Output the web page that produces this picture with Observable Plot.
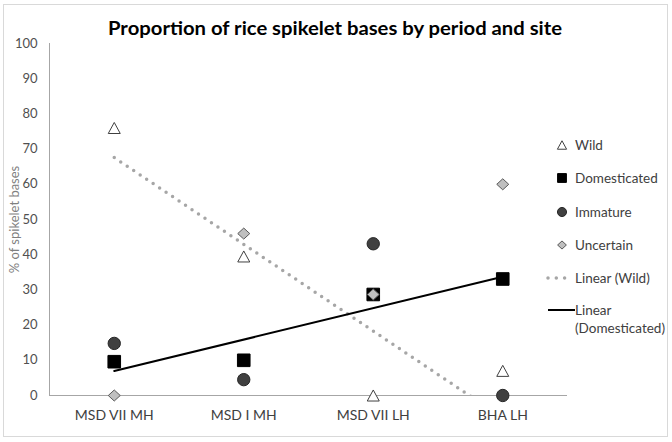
<!DOCTYPE html>
<html><head><meta charset="utf-8">
<script src="https://cdn.jsdelivr.net/npm/d3@7"></script>
<script src="https://cdn.jsdelivr.net/npm/@observablehq/plot@0.6"></script>
<style>
body{margin:0;background:#fff;}
#wrap{position:relative;width:672px;height:442px;font-family:Lato,"Open Sans",sans-serif;overflow:hidden;background:#fff}
#border{position:absolute;left:3px;top:4px;width:665px;height:433px;border:1px solid #d9d9d9;box-sizing:border-box}
#title{position:absolute;left:0;top:0}
#chart{position:absolute;left:0;top:0}
.lg{position:absolute;left:0;top:0;font-size:13.5px;color:#404040;line-height:18px;white-space:nowrap}
.lg svg{position:absolute}
</style></head><body>
<div id="wrap">
  <div id="border"></div>
  <div id="chart"></div>
  <svg id="title" width="672" height="45"><text x="108" y="35" font-family="Lato, 'Open Sans', sans-serif" font-weight="bold" font-size="19" fill="#000" textLength="454" lengthAdjust="spacingAndGlyphs">Proportion of rice spikelet bases by period and site</text></svg>
  <div id="legend"></div>
</div>
<script>
// ---- data ----
const sites = ["MSD VII MH", "MSD I MH", "MSD VII LH", "BHA LH"];
const wild = [76, 39.5, 0, 7];
const domesticated = [9.6, 10, 28.7, 33.1];
const immature = [14.8, 4.5, 43.1, 0];
const uncertain = [0, 46, 28.7, 60];
const yTicks = [0, 10, 20, 30, 40, 50, 60, 70, 80, 90, 100];
const yTitle = "% of spikelet bases";
const titleText = "Proportion of rice spikelet bases by period and site";
const legendNames = ["Wild", "Domesticated", "Immature", "Uncertain", "Linear (Wild)", "Linear (Domesticated)"];

// ---- custom symbols (bbox-centred like Excel markers) ----
const triSym = {draw(ctx, size){const r=Math.sqrt(size/Math.PI);const h=0.92*r;ctx.moveTo(0,-h);ctx.lineTo(r,h);ctx.lineTo(-r,h);ctx.closePath();}};
const sqSym = {draw(ctx, size){const r=Math.sqrt(size/Math.PI)*1.05;ctx.rect(-r,-r,2*r,2*r);}};
const circSym = {draw(ctx, size){const r=Math.sqrt(size/Math.PI)*1.03;ctx.moveTo(r,0);ctx.arc(0,0,r,0,2*Math.PI);}};
const diaSym = {draw(ctx, size){const r=Math.sqrt(size/Math.PI);const h=0.92*r;ctx.moveTo(0,-h);ctx.lineTo(r,0);ctx.lineTo(0,h);ctx.lineTo(-r,0);ctx.closePath();}};

const toPts = (vals) => vals.map((v, i) => ({x: i + 1, site: sites[i], y: v}));
const wildPts = toPts(wild), domPts = toPts(domesticated), immPts = toPts(immature), uncPts = toPts(uncertain);
const xIdx = sites.map((s, i) => i + 1);

const styles = {
  wild: {symbol: triSym, fill: "#ffffff", stroke: "#404040", strokeWidth: 1},
  dom: {symbol: sqSym, fill: "#000000", stroke: "#000000", strokeWidth: 1},
  imm: {symbol: circSym, fill: "#404040", stroke: "#262626", strokeWidth: 1},
  unc: {symbol: diaSym, fill: "#bfbfbf", stroke: "#595959", strokeWidth: 1}
};

const chart = Plot.plot({
  width: 672, height: 442,
  marginTop: 43, marginBottom: 47, marginLeft: 49, marginRight: 105,
  style: {fontFamily: "Lato, 'Open Sans', sans-serif", background: "transparent", overflow: "visible"},
  x: {type: "linear", domain: [0.5, 4.5]},
  y: {domain: [0, 100]},
  marks: [
    Plot.ruleX([0.5], {stroke: "#a6a6a6", strokeWidth: 1}),
    Plot.ruleY([0], {stroke: "#a6a6a6", strokeWidth: 1}),
    Plot.axisY({ticks: yTicks, tickSize: 0, tickPadding: 12, fontSize: 13, fill: "#505050", label: null}),
    Plot.axisX({ticks: xIdx, tickFormat: d => sites[d - 1], tickSize: 0, tickPadding: 15, fontSize: 14, fill: "#404040", label: null}),
    Plot.text([yTitle], {text: d => d, frameAnchor: "left", textAnchor: "middle", dx: -35, rotate: -90, fontSize: 13, fill: "#7f7f7f"}),
    Plot.linearRegressionY(wildPts, {x: "x", y: "y", ci: 0, stroke: "#a6a6a6", strokeWidth: 3.5, strokeDasharray: "0,7.8", strokeLinecap: "round", clip: true}),
    Plot.linearRegressionY(domPts, {x: "x", y: "y", ci: 0, stroke: "#000000", strokeWidth: 2, clip: true}),
    Plot.dot(wildPts, {x: "x", y: "y", r: 6, ...styles.wild}),
    Plot.dot(domPts, {x: "x", y: "y", r: 6, ...styles.dom}),
    Plot.dot(immPts, {x: "x", y: "y", r: 6, ...styles.imm}),
    Plot.dot(uncPts, {x: "x", y: "y", r: 6, ...styles.unc})
  ]
});
document.getElementById("chart").appendChild(chart);

// ---- legend ----
const legend = document.getElementById("legend");
const symPath = (sym, r) => d3.symbol(sym, Math.PI * r * r)();
const legendRows = [
  {name: legendNames[0], top: 145, kind: "sym", st: styles.wild, r: 4.6},
  {name: legendNames[1], top: 178, kind: "sym", st: styles.dom, r: 4.2},
  {name: legendNames[2], top: 212, kind: "sym", st: styles.imm, r: 4.4},
  {name: legendNames[3], top: 245, kind: "sym", st: styles.unc, r: 4.4},
  {name: legendNames[4], top: 278, kind: "dots"},
  {name: legendNames[5], top: 310, kind: "line"}
];
for (const row of legendRows) {
  const div = document.createElement("div");
  div.className = "lg";
  div.style.left = "575px";
  div.style.top = (row.top - 9) + "px";
  if (row.kind === "line") {
    const parts = row.name.split(" ");
    div.innerHTML = parts[0] + "<br>" + parts[1];
  } else div.textContent = row.name;
  const svg = d3.create("svg").attr("width", 30).attr("height", 18).style("left", "-30px").style("top", "0px");
  if (row.kind === "sym") {
    svg.append("path").attr("d", symPath(row.st.symbol, row.r)).attr("transform", "translate(17,9)")
      .attr("fill", row.st.fill).attr("stroke", row.st.stroke).attr("stroke-width", 1);
  } else if (row.kind === "dots") {
    svg.append("line").attr("x1", 3).attr("x2", 21).attr("y1", 9).attr("y2", 9)
      .attr("stroke", "#a6a6a6").attr("stroke-width", 3.5).attr("stroke-linecap", "round").attr("stroke-dasharray", "0,8.3");
  } else {
    svg.append("line").attr("x1", 3).attr("x2", 30).attr("y1", 9).attr("y2", 9)
      .attr("stroke", "#000").attr("stroke-width", 2);
  }
  div.appendChild(svg.node());
  legend.appendChild(div);
}
</script>
</body></html>
